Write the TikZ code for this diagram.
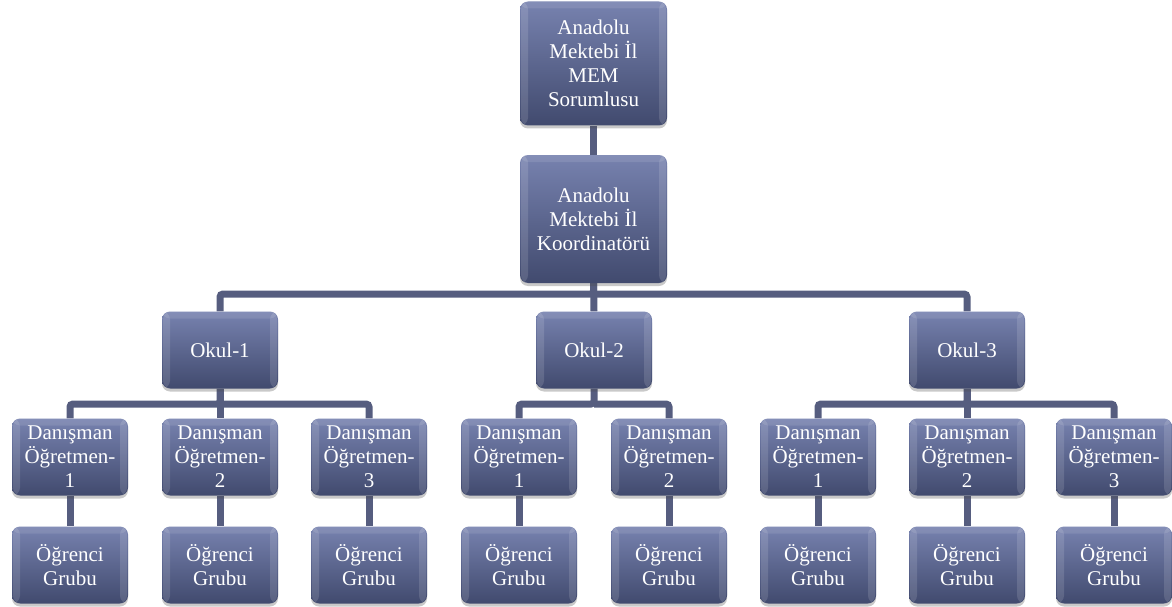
\documentclass[tikz,border=0pt]{standalone}
\usepackage{fontspec}
\setmainfont{Liberation Serif}
\newfontfamily\orgfont{Liberation Serif}
\usetikzlibrary{shadows,backgrounds}
\definecolor{boxtop}{HTML}{7782AF}
\definecolor{boxbot}{HTML}{414A6E}
\definecolor{connc}{HTML}{565D7F}
\tikzset{
  orgbox/.style={rounded corners=8pt, top color=boxtop, bottom color=boxbot,
    draw=none, text=white, align=center, inner sep=2pt,
    font=\orgfont\fontsize{21}{24}\selectfont,
    drop shadow={shadow xshift=0pt, shadow yshift=-3pt, opacity=0.3, fill=black!70},
    path picture={
      \fill[white,opacity=0.13] ([xshift=1pt]path picture bounding box.south west) rectangle ([xshift=8pt]path picture bounding box.north west);
      \fill[white,opacity=0.13] ([xshift=-8pt]path picture bounding box.south east) rectangle ([xshift=-1pt]path picture bounding box.north east);
      \fill[white,opacity=0.10] ([yshift=-7pt]path picture bounding box.north west) rectangle (path picture bounding box.north east);
    }},
  bigbox/.style={orgbox, minimum width=147pt, minimum height=124pt},
  smallbox/.style={orgbox, minimum width=116pt, minimum height=77pt},
  conn/.style={draw=connc, line width=7pt, rounded corners=3pt}
}
\begin{document}
\begin{tikzpicture}[x=1pt,y=-1pt]
\useasboundingbox (0,0) rectangle (1172,607);
% top levels
\node[bigbox] (mem) at (593.5,63.5) {Anadolu\\Mektebi İl\\MEM\\Sorumlusu};
\node[bigbox, minimum height=128pt] (koord) at (593.5,219) {Anadolu\\Mektebi İl\\Koordinatörü};
% schools
\node[smallbox] (ok1) at (220,350) {Okul-1};
\node[smallbox] (ok2) at (594,350) {Okul-2};
\node[smallbox] (ok3) at (967,350) {Okul-3};
% advisors
\node[smallbox] (d11) at (70,457) {Danışman\\Öğretmen-\\1};
\node[smallbox] (d12) at (220,457) {Danışman\\Öğretmen-\\2};
\node[smallbox] (d13) at (369,457) {Danışman\\Öğretmen-\\3};
\node[smallbox] (d21) at (519,457) {Danışman\\Öğretmen-\\1};
\node[smallbox] (d22) at (669,457) {Danışman\\Öğretmen-\\2};
\node[smallbox] (d31) at (818,457) {Danışman\\Öğretmen-\\1};
\node[smallbox] (d32) at (967,457) {Danışman\\Öğretmen-\\2};
\node[smallbox] (d33) at (1114,457) {Danışman\\Öğretmen-\\3};
% student groups
\node[smallbox] (g11) at (70,565) {Öğrenci\\Grubu};
\node[smallbox] (g12) at (220,565) {Öğrenci\\Grubu};
\node[smallbox] (g13) at (369,565) {Öğrenci\\Grubu};
\node[smallbox] (g21) at (519,565) {Öğrenci\\Grubu};
\node[smallbox] (g22) at (669,565) {Öğrenci\\Grubu};
\node[smallbox] (g31) at (818,565) {Öğrenci\\Grubu};
\node[smallbox] (g32) at (967,565) {Öğrenci\\Grubu};
\node[smallbox] (g33) at (1114,565) {Öğrenci\\Grubu};
\begin{scope}[on background layer]
\draw[conn] (mem.south) -- (koord.north);
\coordinate (b0) at (0,294);
\draw[conn] (koord.south) -- (koord.south |- b0) -| (ok1.north);
\draw[conn] (koord.south |- b0) -| (ok3.north);
\draw[conn] (koord.south) -- (ok2.north);
\coordinate (b1) at (0,404);
\draw[conn] (ok1.south) -- (ok1.south |- b1) -| (d11.north);
\draw[conn] (ok1.south |- b1) -| (d13.north);
\draw[conn] (ok1.south) -- (d12.north);
\draw[conn] (ok2.south) -- (ok2.south |- b1) -| (d21.north);
\draw[conn] (ok2.south |- b1) -| (d22.north);
\draw[conn] (ok3.south) -- (ok3.south |- b1) -| (d31.north);
\draw[conn] (ok3.south |- b1) -| (d33.north);
\draw[conn] (ok3.south) -- (d32.north);
\foreach \a/\b in {d11/g11,d12/g12,d13/g13,d21/g21,d22/g22,d31/g31,d32/g32,d33/g33}
  \draw[conn] (\a.south) -- (\b.north);
\end{scope}
\end{tikzpicture}
\end{document}
